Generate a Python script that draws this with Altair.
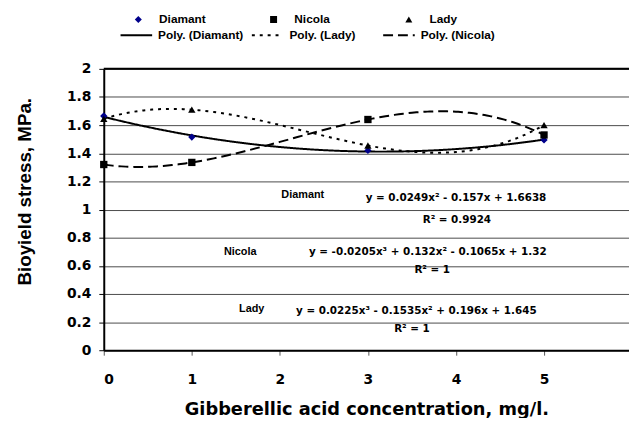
import altair as alt
import pandas as pd

# ---- data ----
conc = [0, 1, 3, 5]
diamant = [1.665, 1.515, 1.42, 1.495]
nicola = [1.32, 1.335, 1.64, 1.53]
lady = [1.645, 1.71, 1.455, 1.60]

series_names = ["Diamant", "Nicola", "Lady"]
trend_names = ["Poly. (Diamant)", "Poly. (Lady)", "Poly. (Nicola)"]
x_ticks = [0, 1, 2, 3, 4, 5]
y_ticks = [0, 0.2, 0.4, 0.6, 0.8, 1, 1.2, 1.4, 1.6, 1.8, 2]

label_text = ["Diamant", "Nicola", "Lady"]
label_x = [2.26, 1.55, 1.68]
label_y = [1.10, 0.70, 0.293]

eq_text = [
    "y = 0.0249x² - 0.157x + 1.6638",
    "y = -0.0205x³ + 0.132x² - 0.1065x + 1.32",
    "y = 0.0225x³ - 0.1535x² + 0.196x + 1.645",
]
eq_x = [4.0, 3.68, 3.55]
eq_y = [1.08, 0.70, 0.279]

r2_text = ["R² = 0.9924", "R² = 1", "R² = 1"]
r2_x = [4.01, 3.73, 3.50]
r2_y = [0.924, 0.573, 0.152]

top_line = [2]

# ---- tables ----
rows = []
for name, trend, vals in [("Diamant", "Poly. (Diamant)", diamant),
                          ("Nicola", "Poly. (Nicola)", nicola),
                          ("Lady", "Poly. (Lady)", lady)]:
    for xv, yv in zip(conc, vals):
        rows.append({"x": xv, "y": yv, "series": name, "trend": trend})
df = pd.DataFrame(rows)
lab_df = pd.DataFrame({"x": label_x, "y": label_y, "t": label_text})
eq_df = pd.DataFrame({"x": eq_x, "y": eq_y, "t": eq_text})
r2_df = pd.DataFrame({"x": r2_x, "y": r2_y, "t": r2_text})
top_df = pd.DataFrame({"y": top_line})

FONT_W = "DejaVu Sans"
FONT_A = "Liberation Sans"

xscale = alt.Scale(domain=[0, 5.965], nice=False, zero=False)
yscale = alt.Scale(domain=[0, 2], nice=False)

x_axis = alt.Axis(
    values=x_ticks, format="d", title="Gibberellic acid concentration, mg/l.",
    labelFont=FONT_W, labelFontSize=14, labelFontWeight="bold", labelColor="black",
    labelPadding=18, tickSize=5, tickColor="#555", domainColor="black", domainWidth=2,
    grid=False, titleFont=FONT_W, titleFontSize=18, titleFontWeight="bold",
    titleColor="black", titleY=51, titleBaseline="top", labelOverlap=False,
)
y_axis = alt.Axis(
    values=y_ticks, format="~g", title="Bioyield stress, MPa.",
    labelFont=FONT_W, labelFontSize=14, labelFontWeight="bold", labelColor="black",
    labelPadding=8, tickSize=5, tickColor="black", domainColor="black", domainWidth=2,
    grid=True, gridColor="#4a4a4a", gridWidth=1, labelOverlap=False, tickCount=11,
    titleFont=FONT_A, titleFontSize=19, titleFontWeight="bold", titleColor="black",
    titleX=-70, titleY=124, titleAngle=-90, titleBaseline="bottom", titleAlign="center",
)


def xe():
    return alt.X("x:Q", scale=xscale, axis=x_axis)


def ye():
    return alt.Y("y:Q", scale=yscale, axis=y_axis)


point_legend = alt.Legend(
    orient="none", legendX=29, legendY=-56, direction="horizontal", columns=3,
    title=None, symbolSize=50, labelFont=FONT_A, labelFontSize=12, labelFontWeight="bold",
    labelColor="black", labelOffset=15, columnPadding=62, gridAlign="all", padding=0,
    symbolStrokeWidth=0,
)

points = alt.Chart(df).mark_point(filled=True, opacity=1, size=55).encode(
    x=xe(), y=ye(),
    shape=alt.Shape("series:N", scale=alt.Scale(domain=series_names,
                    range=["diamond", "square", "triangle-up"]), legend=point_legend),
    color=alt.Color("series:N", scale=alt.Scale(domain=series_names,
                    range=["#00008B", "#000000", "#000000"]), legend=point_legend),
)

line_legend = alt.Legend(
    orient="none", legendX=16, legendY=-51, direction="horizontal", columns=3,
    title=None, symbolType="stroke", symbolSize=1024, symbolStrokeWidth=2,
    symbolStrokeColor="black", labelFont=FONT_A, labelFontSize=12, labelFontWeight="bold",
    labelColor="black", labelOffset=5, columnPadding=4, gridAlign="all", padding=0,
)
dash_scale = alt.Scale(domain=trend_names, range=[[1, 0], [3, 5], [10, 5]])


def trend_layer(name, order):
    return (
        alt.Chart(df)
        .transform_filter(alt.datum.series == name)
        .transform_regression("x", "y", method="poly", order=order, groupby=["trend"])
        .mark_line(color="black", strokeWidth=2)
        .encode(
            x=xe(), y=ye(),
            strokeDash=alt.StrokeDash("trend:N", scale=dash_scale, legend=line_legend),
        )
    )


trends = [trend_layer("Diamant", 2), trend_layer("Lady", 3), trend_layer("Nicola", 3)]

top_rule = alt.Chart(top_df).mark_rule(color="black", strokeWidth=2).encode(y=ye())

labels = alt.Chart(lab_df).mark_text(
    font=FONT_A, fontSize=11, fontWeight="bold", color="black", align="center"
).encode(x=xe(), y=ye(), text="t:N")

eqs = alt.Chart(eq_df).mark_text(
    font=FONT_W, fontSize=10.5, fontWeight="bold", color="black", align="center"
).encode(x=xe(), y=ye(), text="t:N")

r2s = alt.Chart(r2_df).mark_text(
    font=FONT_W, fontSize=10.5, fontWeight="bold", color="black", align="center"
).encode(x=xe(), y=ye(), text="t:N")

chart = alt.layer(top_rule, *trends, points, labels, eqs, r2s).properties(
    width=532, height=285,
    padding={"left": 97, "top": 59, "right": 0, "bottom": 66},
    autosize=alt.AutoSizeParams(type="none"),
    background="white",
).configure_view(stroke=None)

chart.save("out.html", embed_options={"renderer": "svg", "actions": False})
